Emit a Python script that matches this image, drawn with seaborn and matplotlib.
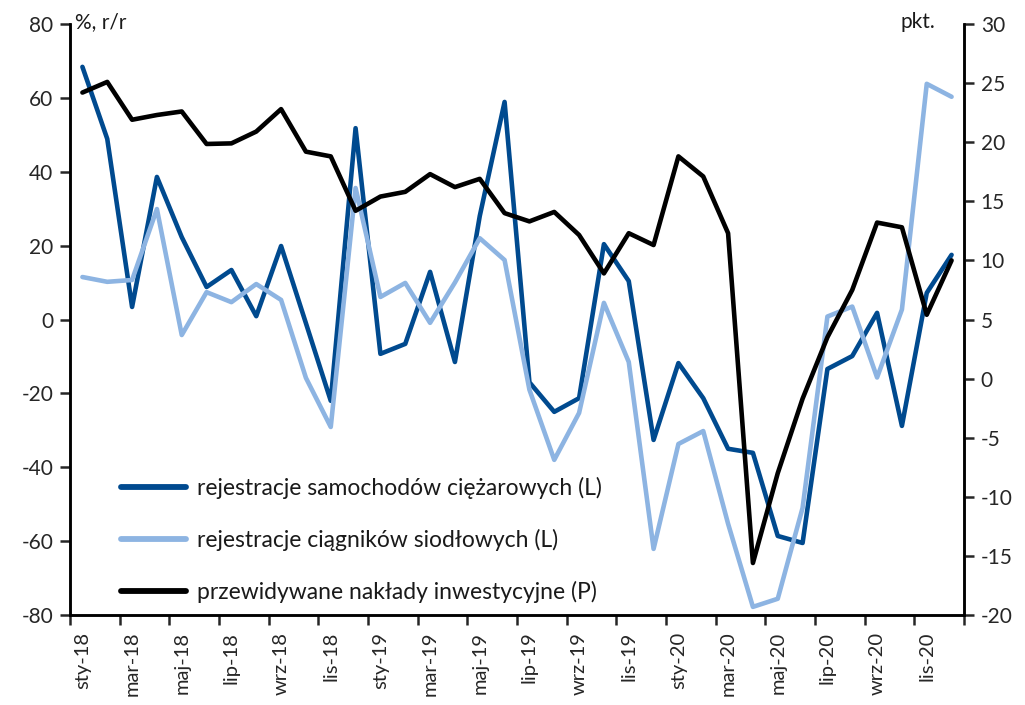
import numpy as np
import pandas as pd
import matplotlib
matplotlib.use("Agg")
import matplotlib.pyplot as plt
import seaborn as sns

months = ["sty", "lut", "mar", "kwi", "maj", "cze", "lip", "sie", "wrz", "paź", "lis", "gru"]
years = ["18", "19", "20"]
categories = [f"{m}-{y}" for y in years for m in months]

trucks = [68.4, 48.9, 3.4, 38.6, 22.3, 8.8, 13.4, 0.9, 19.9, -1.0, -22.0, 51.8,
          -9.3, -6.6, 12.9, -11.5, 28.0, 58.9, -17.0, -25.0, -21.3, 20.4, 10.4, -32.6,
          -11.8, -21.3, -35.0, -36.1, -58.6, -60.5, -13.4, -9.9, 1.8, -28.8, 7.2, 17.5]
tractors = [11.5, 10.2, 10.7, 29.9, -4.2, 7.4, 4.7, 9.6, 5.3, -15.8, -29.1, 35.6,
            6.1, 9.9, -0.9, 10.0, 22.0, 16.1, -19.0, -38.0, -25.3, 4.5, -11.5, -62.1,
            -33.7, -30.2, -55.3, -77.8, -75.6, -51.0, 0.8, 3.5, -15.7, 2.7, 63.8, 60.3]
invest = [24.2, 25.1, 21.9, 22.3, 22.6, 19.85, 19.9, 20.9, 22.8, 19.2, 18.8, 14.2,
          15.4, 15.8, 17.3, 16.2, 16.9, 14.0, 13.3, 14.1, 12.15, 8.9, 12.3, 11.3,
          18.8, 17.1, 12.3, -15.6, -8.0, -1.7, 3.5, 7.5, 13.2, 12.8, 5.4, 10.0]

labels = ["rejestracje samochodów ciężarowych (L)",
          "rejestracje ciągników siodłowych (L)",
          "przewidywane nakłady inwestycyjne (P)"]
colors = ["#004a8f", "#8db4e2", "#000000"]

df = pd.DataFrame({"idx": np.arange(len(categories)), "cat": categories,
                   "trucks": trucks, "tractors": tractors, "invest": invest})

sns.set_style("ticks")
plt.rcParams["font.family"] = ["Lato", "DejaVu Sans"]
plt.rcParams["text.color"] = "#1a1a1a"
plt.rcParams["axes.unicode_minus"] = False

fig = plt.figure(figsize=(10.25, 7.05), dpi=100)
ax = fig.add_axes([70 / 1025, 1 - 615 / 705, 894 / 1025, 591 / 705])
ax2 = ax.twinx()

lw = 3.3
sns.lineplot(data=df, x="idx", y="trucks", ax=ax, color=colors[0], lw=lw, label=labels[0], legend=False)
sns.lineplot(data=df, x="idx", y="tractors", ax=ax, color=colors[1], lw=lw, label=labels[1], legend=False)
sns.lineplot(data=df, x="idx", y="invest", ax=ax2, color=colors[2], lw=lw, label=labels[2], legend=False)

ax.set_xlim(-0.5, len(categories) - 0.5)
ax.set_ylim(-80, 80)
ax.set_yticks(np.arange(-80, 81, 20))
ax2.set_ylim(-20, 30)
ax2.set_yticks(np.arange(-20, 31, 5))

# boundary ticks every 2 months; labels at category centres
ax.set_xticks(np.arange(-0.5, len(categories), 2))
ax.set_xticklabels([])
ax.set_xticks(np.arange(0, len(categories), 2), minor=True)
ax.set_xticklabels(categories[::2], minor=True, rotation=90)
ax.tick_params(axis="x", which="minor", length=0, pad=12, labelsize=14.5)
ax.tick_params(axis="x", which="major", length=7, width=1.8, direction="out")
ax.tick_params(axis="y", length=7, width=1.8, direction="out", labelsize=15, pad=5)
ax2.tick_params(axis="y", length=7, width=1.8, direction="out", labelsize=15, pad=5)

for a in (ax, ax2):
    a.set_xlabel("")
    a.set_ylabel("")
    a.spines["top"].set_visible(False)
    for s in ("left", "right", "bottom"):
        a.spines[s].set_linewidth(1.8)
        a.spines[s].set_color("black")
    a.grid(False)

h1, l1 = ax.get_legend_handles_labels()
h2, l2 = ax2.get_legend_handles_labels()
leg = ax2.legend(h1 + h2, l1 + l2, loc="lower left", bbox_to_anchor=(0.034, -0.015),
                 frameon=False, fontsize=16.5, handlelength=2.85, handletextpad=0.45,
                 labelspacing=1.3)
for line in leg.get_lines():
    line.set_linewidth(4.2)
    line.set_solid_capstyle("round")

fig.text(75 / 1025, 1 - 22 / 705, "%, r/r", fontsize=15, ha="left", va="center")
fig.text(935 / 1025, 1 - 22 / 705, "pkt.", fontsize=15, ha="right", va="center")

fig.savefig("out.png", dpi=100)
